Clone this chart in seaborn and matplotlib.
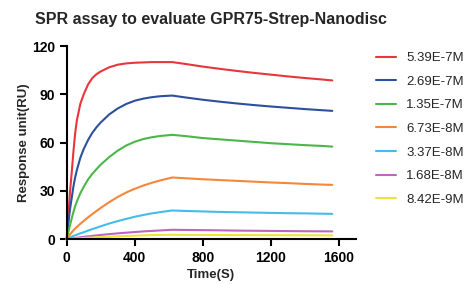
import pandas as pd
import numpy as np
import seaborn as sns
import matplotlib.pyplot as plt

# time points (s); association ends at ~620 s
time_s = [0, 10, 20, 30, 40, 50, 60, 80, 100, 125, 150, 175, 200, 250, 300, 350,
          400, 450, 500, 550, 620, 700, 800, 900, 1000, 1100, 1200, 1300, 1400,
          1500, 1560]

conc_labels = ["5.39E-7M", "2.69E-7M", "1.35E-7M", "6.73E-8M",
               "3.37E-8M", "1.68E-8M", "8.42E-9M"]

ru_539e7 = [0, 15, 30, 42, 55, 66, 74, 84, 90, 96, 100, 102.5, 104.2, 106.8, 108.4,
            109.2, 109.6, 109.8, 110, 110, 110,
            108.8, 107.2, 105.8, 104.5, 103.3, 102.2, 101.1, 100.1, 99.2, 98.6]
ru_269e7 = [0, 10, 19, 26, 33, 38.5, 43, 50.5, 56, 61.5, 66, 69.5, 72.5, 77.5, 81.2,
            84, 86, 87.3, 88.2, 88.8, 89.2,
            88, 86.6, 85.4, 84.3, 83.3, 82.4, 81.6, 80.8, 80.1, 79.7]
ru_135e7 = [0, 4.5, 9, 13, 17, 20.5, 23.5, 28.5, 32.5, 37, 40.5, 43.5, 46.3, 51, 55,
            58.2, 60.5, 62.2, 63.3, 64.1, 64.8,
            64, 62.8, 62, 61.2, 60.4, 59.6, 59, 58.4, 57.9, 57.5]
ru_673e8 = [0, 1.5, 3, 4.3, 5.5, 6.6, 7.6, 9.5, 11.3, 13.5, 15.5, 17.5, 19.4, 23, 26.2,
            29, 31.3, 33.3, 35, 36.5, 38.3,
            37.8, 37.2, 36.7, 36.2, 35.7, 35.2, 34.8, 34.3, 33.9, 33.7]
ru_337e8 = [0, 0.5, 1, 1.5, 2, 2.4, 2.8, 3.6, 4.3, 5.3, 6.2, 7.1, 8, 9.7, 11.2,
            12.6, 13.9, 15, 16, 16.8, 17.8,
            17.5, 17.2, 16.9, 16.7, 16.5, 16.3, 16.1, 16, 15.8, 15.7]
ru_168e8 = [0, 0.15, 0.3, 0.45, 0.6, 0.75, 0.9, 1.15, 1.4, 1.7, 2, 2.3, 2.6, 3.1, 3.6,
            4, 4.4, 4.8, 5.1, 5.4, 5.8,
            5.7, 5.6, 5.45, 5.3, 5.2, 5.1, 5, 4.9, 4.85, 4.8]
ru_842e9 = [0, 0.07, 0.15, 0.22, 0.3, 0.37, 0.45, 0.57, 0.7, 0.85, 1, 1.15, 1.3, 1.5, 1.75,
            1.95, 2.15, 2.35, 2.5, 2.6, 2.7,
            2.65, 2.6, 2.55, 2.5, 2.47, 2.45, 2.42, 2.4, 2.35, 2.3]

colors = ["#e8363a", "#2c4f9e", "#49b848", "#f5873a", "#45bce9", "#bd66bd", "#ece43a"]

series = [ru_539e7, ru_269e7, ru_135e7, ru_673e8, ru_337e8, ru_168e8, ru_842e9]
df = pd.concat([pd.DataFrame({"Time": time_s, "RU": vals, "conc": lab})
                for lab, vals in zip(conc_labels, series)], ignore_index=True)

sns.set_style("ticks")
plt.rcParams['font.family'] = ['Liberation Sans', 'DejaVu Sans']

fig = plt.figure(figsize=(4.68, 2.84), dpi=100)
ax = fig.add_axes([0.1425, 0.158, 0.6185, 0.68])

sns.lineplot(data=df, x="Time", y="RU", hue="conc", hue_order=conc_labels,
             palette=colors, linewidth=1.5, ax=ax, clip_on=False)

ax.set_xlim(0, 1700)
ax.set_ylim(0, 120)
ax.set_xticks([0, 400, 800, 1200, 1600])
ax.set_yticks([0, 30, 60, 90, 120])
sns.despine(ax=ax)
for s in ["left", "bottom"]:
    ax.spines[s].set_linewidth(1.5)
    ax.spines[s].set_color("black")
ax.tick_params(direction="out", length=5, width=1.5, labelsize=10, colors="black")
for lbl in ax.get_xticklabels() + ax.get_yticklabels():
    lbl.set_fontweight("bold")

ax.set_xlabel("Time(S)", fontsize=9.5, fontweight="bold", labelpad=3)
ax.set_ylabel("Response unit(RU)", fontsize=9.5, fontweight="bold", labelpad=1)
ax.set_title("SPR assay to evaluate GPR75-Strep-Nanodisc", fontsize=11.5,
             fontweight="bold", pad=16)

ax.legend(loc="upper left", bbox_to_anchor=(376 / 468, 0.817),
          bbox_transform=fig.transFigure, frameon=False, fontsize=9.5,
          borderpad=0, borderaxespad=0, handlelength=1.5, handletextpad=0.8,
          labelspacing=0.86)

fig.savefig("out.png", dpi=100)
